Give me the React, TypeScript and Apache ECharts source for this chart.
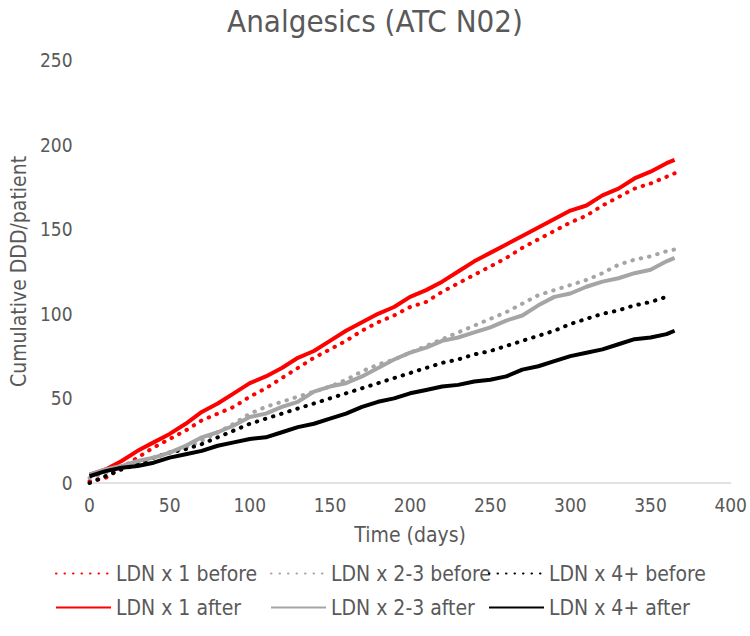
import React, { useEffect, useRef } from "react";
import * as echarts from "echarts";

const days = [0, 10, 20, 30, 40, 50, 60, 70, 80, 90, 100, 110, 120, 130, 140, 150, 160, 170, 180, 190, 200, 210, 220, 230, 240, 250, 260, 270, 280, 290, 300, 310, 320, 330, 340, 350, 360, 365];
const daysBlackBefore = [0, 10, 20, 30, 40, 50, 60, 70, 80, 90, 100, 110, 120, 130, 140, 150, 160, 170, 180, 190, 200, 210, 220, 230, 240, 250, 260, 270, 280, 290, 300, 310, 320, 330, 340, 350, 360];

const ldn1Before = [1, 3, 9, 15, 21, 26, 31, 37, 41, 45, 51, 56, 62, 68, 74, 79, 84, 90, 95, 99, 104, 107, 113, 118, 123, 128, 133, 139, 144, 149, 154, 158, 164, 169, 174, 177, 181, 183];
const ldn1After = [5, 8, 13, 19, 24, 29, 35, 42, 47, 53, 59, 63, 68, 74, 78, 84, 90, 95, 100, 104, 110, 114, 119, 125, 131, 136, 141, 146, 151, 156, 161, 164, 170, 174, 180, 184, 189, 191];
const ldn23Before = [3, 6, 9, 12, 15, 18, 21, 25, 30, 35, 41, 45, 48, 51, 54, 57, 61, 66, 70, 73, 77, 81, 85, 89, 93, 97, 101, 106, 111, 114, 117, 120, 124, 129, 132, 134, 137, 138];
const ldn23After = [5, 8, 10, 13, 15, 18, 22, 27, 30, 34, 39, 41, 45, 48, 54, 57, 59, 63, 68, 73, 77, 80, 84, 86, 89, 92, 96, 99, 105, 110, 112, 116, 119, 121, 124, 126, 131, 133];
const ldn4Before = [0, 4, 8, 11, 15, 18, 20, 23, 27, 31, 35, 38, 41, 44, 47, 50, 53, 56, 59, 62, 65, 68, 71, 73, 76, 78, 81, 84, 87, 90, 94, 97, 100, 102, 105, 107, 110];
const ldn4After = [4, 7, 9, 10, 12, 15, 17, 19, 22, 24, 26, 27, 30, 33, 35, 38, 41, 45, 48, 50, 53, 55, 57, 58, 60, 61, 63, 67, 69, 72, 75, 77, 79, 82, 85, 86, 88, 90];

const xTicks = { min: 0, max: 400, interval: 50 };
const yTicks = { min: 0, max: 250, interval: 50 };

const names = [
  "LDN x 1 before",
  "LDN x 2-3 before",
  "LDN x 4+ before",
  "LDN x 1 after",
  "LDN x 2-3 after",
  "LDN x 4+ after",
];

const RED = "#ff0000";
const GRAY = "#a5a5a5";
const BLACK = "#000000";
const TEXT = "#595959";
const FONT = "'DejaVu Sans Condensed', 'DejaVu Sans', sans-serif";

function pairs(xs: number[], ys: number[]) {
  return xs.map((x, i) => [x, ys[i]]);
}

export default function App() {
  const ref = useRef<HTMLDivElement>(null);
  useEffect(() => {
    if (!ref.current) return;
    const chart = echarts.init(ref.current, undefined, { renderer: "svg" });

    const dotted = (color: string) => ({ color, width: 4, type: [0.5, 8], cap: "round" });
    const solid = (color: string) => ({ color, width: 4, type: "solid" });

    const seriesDefs = [
      { name: names[0], data: pairs(days, ldn1Before), lineStyle: dotted(RED), color: RED },
      { name: names[1], data: pairs(days, ldn23Before), lineStyle: dotted(GRAY), color: GRAY },
      { name: names[2], data: pairs(daysBlackBefore, ldn4Before), lineStyle: dotted(BLACK), color: BLACK },
      { name: names[3], data: pairs(days, ldn1After), lineStyle: solid(RED), color: RED },
      { name: names[4], data: pairs(days, ldn23After), lineStyle: solid(GRAY), color: GRAY },
      { name: names[5], data: pairs(days, ldn4After), lineStyle: solid(BLACK), color: BLACK },
    ];

    const legendPos = [
      { left: 55, top: 563 },
      { left: 270, top: 563 },
      { left: 488, top: 563 },
      { left: 55, top: 597 },
      { left: 270, top: 597 },
      { left: 488, top: 597 },
    ];

    const option: any = {
      animation: false,
      backgroundColor: "#ffffff",
      title: {
        text: "Analgesics (ATC N02)",
        left: "center",
        top: 0,
        textStyle: { fontFamily: FONT, fontSize: 31, fontWeight: "normal", color: TEXT },
      },
      legend: names.map((n, i) => ({
        data: [n],
        left: legendPos[i].left,
        top: legendPos[i].top,
        itemWidth: 55,
        itemHeight: 14,
        itemGap: 7,
        padding: 0,
        itemStyle: { opacity: 0 },
        textStyle: { fontFamily: FONT, fontSize: 21, color: TEXT },
        selectedMode: false,
      })),
      grid: { left: 80, right: 19, top: 60, bottom: 153, containLabel: false },
      xAxis: {
        type: "value",
        min: xTicks.min,
        max: xTicks.max,
        interval: xTicks.interval,
        name: "Time (days)",
        nameLocation: "middle",
        nameGap: 41,
        nameTextStyle: { fontFamily: FONT, fontSize: 21, color: TEXT },
        axisLine: { show: true, lineStyle: { color: "#d9d9d9", width: 1.5 } },
        axisTick: { show: false },
        splitLine: { show: false },
        axisLabel: { fontFamily: FONT, fontSize: 19, color: TEXT, margin: 12 },
      },
      yAxis: {
        type: "value",
        min: yTicks.min,
        max: yTicks.max,
        interval: yTicks.interval,
        name: "Cumulative DDD/patient",
        nameLocation: "middle",
        nameGap: 57,
        nameTextStyle: { fontFamily: FONT, fontSize: 21, color: TEXT },
        axisLine: { show: false },
        axisTick: { show: false },
        splitLine: { show: false },
        axisLabel: { fontFamily: FONT, fontSize: 19, color: TEXT, margin: 17 },
      },
      series: seriesDefs.map((s) => ({
        type: "line",
        name: s.name,
        data: s.data,
        showSymbol: false,
        symbol: "none",
        smooth: false,
        color: s.color,
        itemStyle: { color: s.color },
        lineStyle: s.lineStyle,
        z: 2,
      })),
    };
    chart.setOption(option);
    return () => chart.dispose();
  }, []);

  return (
    <>
      <style>{"#root svg text { font-stretch: condensed !important; }"}</style>
      <div ref={ref} style={{ position: "absolute", left: 0, top: 0, width: 750, height: 636 }} />
    </>
  );
}
